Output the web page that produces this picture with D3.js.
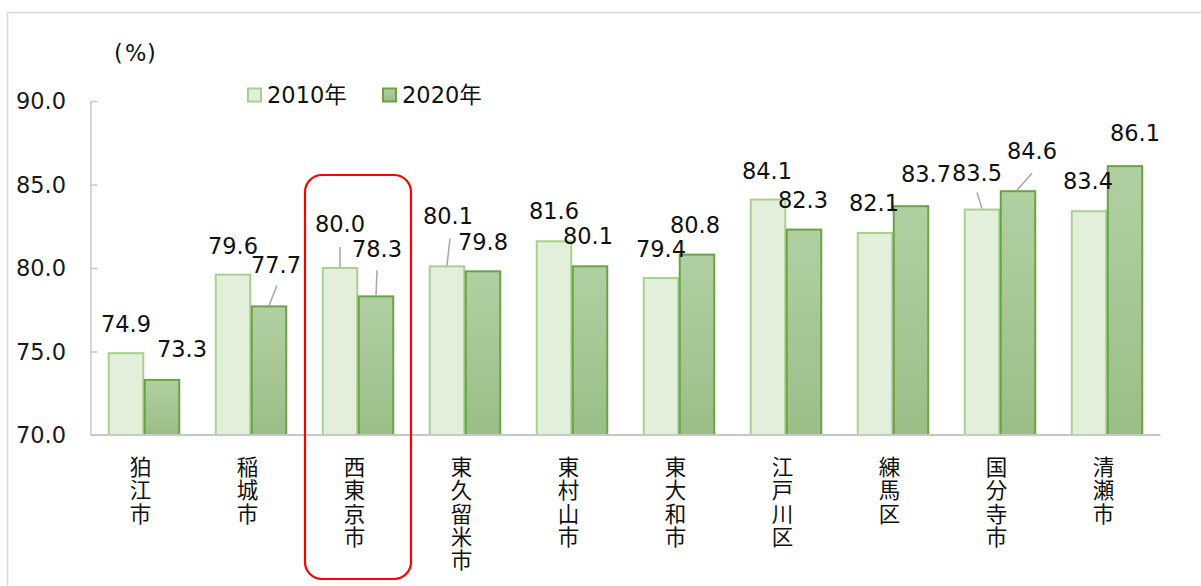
<!DOCTYPE html>
<html>
<head>
<meta charset="utf-8">
<script src="https://cdn.jsdelivr.net/npm/d3@7"></script>
<style>
  html, body { margin: 0; padding: 0; background: #fff; }
  svg { display: block; }
  .vcat { writing-mode: vertical-rl; text-orientation: upright; }
</style>
</head>
<body>
<svg id="chart" width="1201" height="586"></svg>
<script>
// ---- data ----
const categories = ["狛江市", "稲城市", "西東京市", "東久留米市", "東村山市", "東大和市", "江戸川区", "練馬区", "国分寺市", "清瀬市"];
const seriesNames = ["2010年", "2020年"];
const values2010 = [74.9, 79.6, 80.0, 80.1, 81.6, 79.4, 84.1, 82.1, 83.5, 83.4];
const values2020 = [73.3, 77.7, 78.3, 79.8, 80.1, 80.8, 82.3, 83.7, 84.6, 86.1];
const yTicks = [70, 75, 80, 85, 90];
const highlighted = "西東京市";

// ---- layout (label placement relative to bar top: [dx, dy]) ----
const labelOff2010 = [[0,-29],[0,-29],[0,-44],[1,-50],[0,-30],[0,-29],[-1,-28.5],[-1,-30],[-5,-36.6],[-1,-30]];
const labelOff2020 = [[20,-31],[7,-41],[1,-47],[0,-29],[-2,-30],[-2,-30],[-1,-30],[15,-32],[14,-40],[10,-33]];
// leader lines: [x1 offset, y1 offset, x2 offset] relative to bar center / bar top, or null
const leader2010 = [null,null,[0,-21,0],[3,-28,0],null,null,null,null,[-5,-17,0],null];
const leader2020 = [null,[8,-21,0],[1,-26,0],null,null,null,null,null,[14,-18,-1],null];

const svg = d3.select("#chart");
const plot = { left: 90.5, right: 1160.5, top: 101, bottom: 435 };

// outer frame
svg.append("rect")
  .attr("x", 7.5).attr("y", 12.5).attr("width", 1300).attr("height", 700)
  .attr("fill", "none").attr("stroke", "#d9d9d9").attr("stroke-width", 1.5);

// defs: gradient for 2020 bars
const defs = svg.append("defs");
const grad = defs.append("linearGradient").attr("id", "g2020")
  .attr("x1", 0).attr("y1", 0).attr("x2", 0).attr("y2", 1);
grad.append("stop").attr("offset", "0%").attr("stop-color", "#b1d0a2");
grad.append("stop").attr("offset", "100%").attr("stop-color", "#9bbe87");

const x0 = d3.scaleBand().domain(categories).range([plot.left, plot.right]).paddingInner(0.327).paddingOuter(0.1635);
const x1 = d3.scaleBand().domain(seriesNames).range([0, x0.bandwidth()]);
const y = d3.scaleLinear().domain([70, 90]).range([plot.bottom, plot.top]);

const numFont = "'DejaVu Sans', Verdana, sans-serif";
const jpFont = "'Noto Sans CJK JP', 'Noto Sans CJK SC', sans-serif";

// y axis
const yAxis = d3.axisRight(y).tickValues(yTicks).tickSize(7).tickFormat("");
const gy = svg.append("g").attr("transform", `translate(${plot.left},0)`).call(yAxis);
gy.select(".domain").attr("stroke", "#c8c8c8").attr("stroke-width", 1.5).attr("d", `M0.5,${plot.top}H0.5V${plot.bottom}`);
gy.selectAll(".tick line").attr("stroke", "#c8c8c8").attr("stroke-width", 1.5);
// tick labels
svg.append("g").selectAll("text").data(yTicks).join("text")
  .attr("x", 66).attr("y", d => y(d) + 8)
  .attr("text-anchor", "end")
  .attr("font-family", numFont).attr("font-size", 22.5).attr("fill", "#1a1a1a")
  .text(d => d.toFixed(1));

// bars
const rows = categories.map((c, i) => ({ c, i, vals: [values2010[i], values2020[i]] }));
const groups = svg.append("g").selectAll("g").data(rows).join("g")
  .attr("transform", d => `translate(${x0(d.c)},0)`);

groups.selectAll("rect").data(d => d.vals.map((v, k) => ({ v, k, s: seriesNames[k] }))).join("rect")
  .attr("x", d => x1(d.s) + 0.75)
  .attr("y", d => y(d.v))
  .attr("width", x1.bandwidth() - 1.5)
  .attr("height", d => y(70) - y(d.v))
  .attr("fill", d => d.k === 0 ? "#e2efda" : "url(#g2020)")
  .attr("stroke", d => d.k === 0 ? "#a9d08e" : "#6aa344")
  .attr("stroke-width", 2);

// x axis line
svg.append("line")
  .attr("x1", plot.left).attr("x2", plot.right)
  .attr("y1", plot.bottom).attr("y2", plot.bottom)
  .attr("stroke", "#c8c8c8").attr("stroke-width", 2);

// data labels and leaders
const labelG = svg.append("g");
function addLabels(vals, k, offs, leaders) {
  vals.forEach((v, i) => {
    const cx = x0(categories[i]) + x1(seriesNames[k]) + x1.bandwidth() / 2;
    const top = y(v);
    const L = leaders[i];
    if (L) {
      labelG.append("line")
        .attr("x1", cx + L[0]).attr("y1", top + L[1])
        .attr("x2", cx + L[2]).attr("y2", top - 1)
        .attr("stroke", "#a6a6a6").attr("stroke-width", 1.5);
    }
    labelG.append("text")
      .attr("x", cx + offs[i][0]).attr("y", top + offs[i][1] + 8)
      .attr("text-anchor", "middle")
      .attr("font-family", numFont).attr("font-size", 22.5).attr("fill", "#111")
      .text(v.toFixed(1));
  });
}
addLabels(values2010, 0, labelOff2010, leader2010);
addLabels(values2020, 1, labelOff2020, leader2020);

// category labels (vertical writing mode)
const catG = svg.append("g");
categories.forEach(c => {
  const cx = x0(c) + x0.bandwidth() / 2 - 3.5;
  catG.append("text")
    .attr("class", "vcat")
    .attr("x", cx).attr("y", 456)
    .attr("font-family", jpFont).attr("font-size", 21.5).attr("fill", "#111")
    .attr("letter-spacing", 1.8)
    .text(c);
});

// highlight box
const hx = x0(highlighted);
svg.append("rect")
  .attr("x", hx + x0.bandwidth() / 2 - 53).attr("y", 175)
  .attr("width", 106).attr("height", 404)
  .attr("rx", 17).attr("ry", 17)
  .attr("fill", "none").attr("stroke", "#ff0000").attr("stroke-width", 2.2);

// unit label
const unit = svg.append("text")
  .attr("y", 61)
  .attr("font-family", numFont).attr("font-size", 22.5).attr("fill", "#111");
unit.append("tspan").attr("x", 114).text("(");
unit.append("tspan").attr("x", 125).text("%");
unit.append("tspan").attr("x", 147).text(")");

// legend
const legend = svg.append("g");
const legX = [247, 382];
seriesNames.forEach((s, k) => {
  legend.append("rect")
    .attr("x", legX[k] + 1).attr("y", 88.5).attr("width", 13).attr("height", 13)
    .attr("fill", k === 0 ? "#e2efda" : "url(#g2020)")
    .attr("stroke", k === 0 ? "#a9d08e" : "#6aa344").attr("stroke-width", 2);
  legend.append("text")
    .attr("x", legX[k] + 20).attr("y", 103)
    .attr("font-family", numFont + ", " + jpFont).attr("font-size", 22.5).attr("fill", "#111")
    .text(s);
});
</script>
</body>
</html>
